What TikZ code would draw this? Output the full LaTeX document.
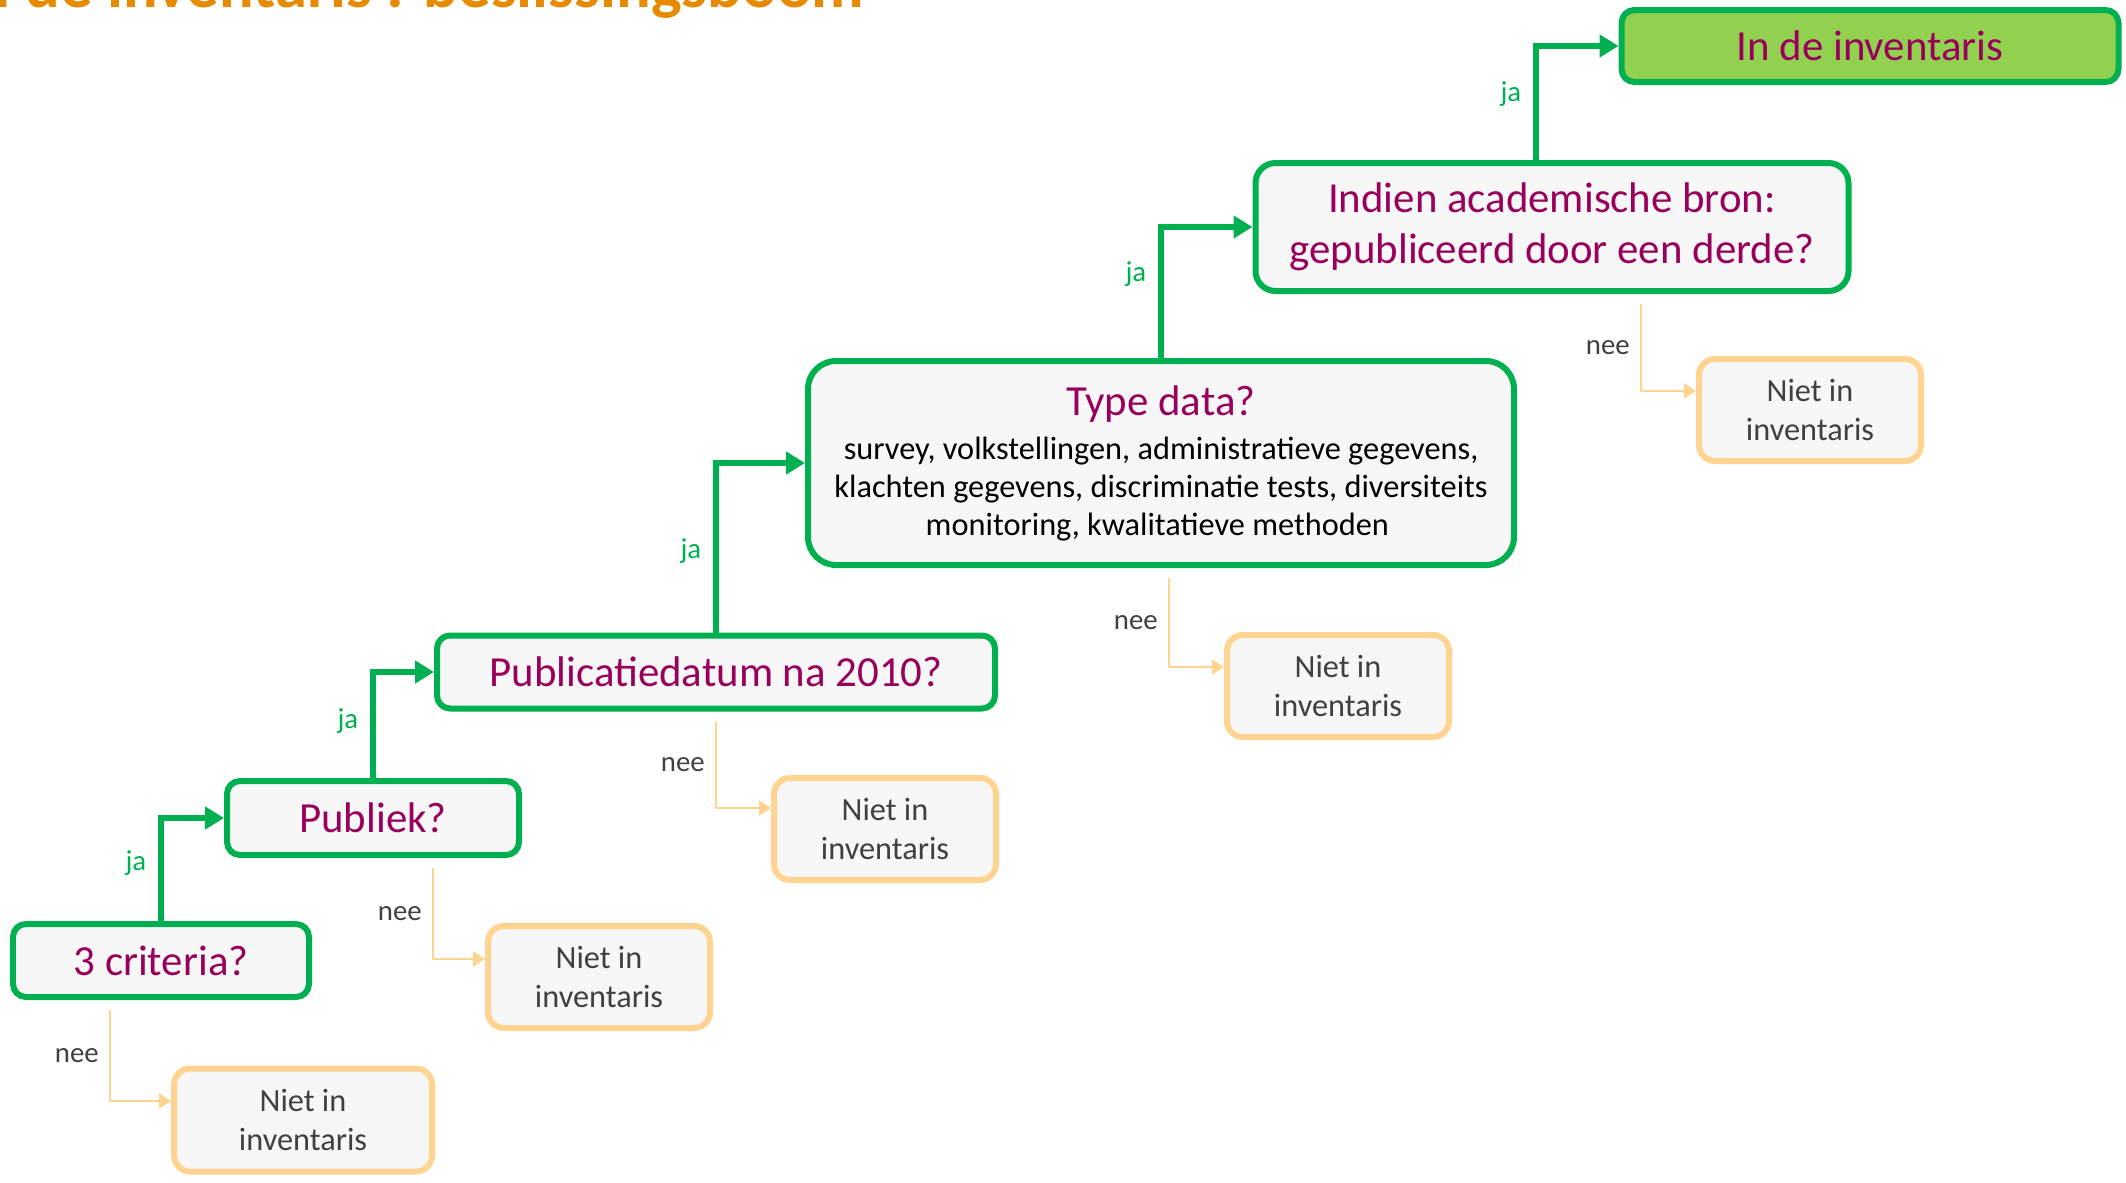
\documentclass[tikz,border=0pt]{standalone}
\usepackage{fontspec}
\setmainfont{Carlito}
\usepackage{xcolor}
\usetikzlibrary{arrows.meta, positioning, calc}
\definecolor{decisionGreen}{RGB}{0, 176, 80}
\definecolor{okGreen}{RGB}{146, 208, 80}
\definecolor{questionPurple}{RGB}{153, 0, 92}
\definecolor{nietOrange}{RGB}{255, 212, 145}
\definecolor{titleOrange}{RGB}{230, 138, 0}
\definecolor{boxGrey}{RGB}{247, 247, 247}
\definecolor{labelGrey}{RGB}{64, 64, 64}

\tikzset{
    question/.style={draw=decisionGreen, line width=0.06cm, fill=boxGrey, text=questionPurple, rounded corners=0.13cm, align=center, font=\fontsize{12.2}{14.4}\selectfont},
    nietbox/.style={draw=nietOrange, line width=0.06cm, fill=boxGrey, text=labelGrey, rounded corners=0.16cm, align=center, minimum width=2.22cm, minimum height=1.02cm, font=\fontsize{9.2}{11.1}\selectfont},
    jaline/.style={-{Triangle[length=0.19cm, width=0.22cm]}, line width=0.055cm, decisionGreen},
    neeline/.style={-{Triangle[length=0.12cm, width=0.15cm]}, line width=0.025cm, nietOrange},
    jalabel/.style={left, text=decisionGreen, font=\fontsize{8.2}{9}\selectfont, inner sep=0.12cm},
    neelabel/.style={left, text=labelGrey, font=\fontsize{8.2}{9}\selectfont, inner sep=0.1cm}
}

\begin{document}
\begin{tikzpicture}
            \useasboundingbox (0,0) rectangle (21.26,11.82);

            % Title (cut off at the top)
            \begin{scope}
                \clip (0,0) rectangle (21.26,11.82);
                \node[anchor=base west, inner sep=0, text=titleOrange, font=\fontsize{18.4}{20}\selectfont\bfseries] (title) at (-0.42,11.75) {In de inventaris : beslissingsboom};
            \end{scope}

            % Questions
            \node[question, minimum width=2.96cm, minimum height=0.73cm] at (1.61,2.215) (crit) {3 criteria?};
            \node[question, minimum width=2.92cm, minimum height=0.74cm] at (3.73,3.64) (publ) {Publiek?};
            \node[question, minimum width=5.58cm, minimum height=0.73cm] at (7.16,5.10) (pdat) {Publicatiedatum na 2010?};
            \node[question, minimum width=7.06cm, minimum height=2.04cm, rounded corners=0.28cm, font=\fontsize{9.2}{10.8}\selectfont] at (11.61,7.19) (type) {
                {\fontsize{12.2}{12}\selectfont Type data?}\\[0.06cm]
                \color{black}survey, volkstellingen, administratieve gegevens,\\
                \color{black}klachten gegevens, discriminatie tests, diversiteits\\
                \color{black}monitoring, kwalitatieve methoden
            };
            \node[question, minimum width=5.93cm, minimum height=1.28cm, rounded corners=0.2cm] at (15.52,9.55) (acad) {
                Indien academische bron:\\
                gepubliceerd door een derde?
            };

            % End result
            \node[question, fill=okGreen, minimum width=4.97cm, minimum height=0.72cm] at (18.70,11.36) (inv) {In de inventaris};

            % Niet in inventaris boxes
            \node[nietbox, minimum width=2.58cm, minimum height=1.03cm] at (3.03,0.62) (niet1) {Niet in\\inventaris};
            \node[nietbox] at (5.99,2.05) (niet2) {Niet in\\inventaris};
            \node[nietbox] at (8.85,3.53) (niet3) {Niet in\\inventaris};
            \node[nietbox] at (13.38,4.96) (niet4) {Niet in\\inventaris};
            \node[nietbox] at (18.10,7.72) (niet5) {Niet in\\inventaris};

            % ja arrows
            \draw[jaline] (crit.north) |- (publ.west) node[jalabel, pos=0.28] {ja};
            \draw[jaline] (publ.north) |- (pdat.west) node[jalabel, pos=0.27] {ja};
            \draw[jaline] (pdat.north) |- (type.west) node[jalabel, pos=0.24] {ja};
            \draw[jaline] (type.north) |- (acad.west) node[jalabel, pos=0.32] {ja};
            \draw[jaline] ([xshift=-0.16cm]acad.north) |- (inv.west) node[jalabel, pos=0.29] {ja};

            % nee arrows
            \draw[neeline] ([xshift=-0.51cm, yshift=-0.1cm]crit.south) |- ([yshift=0.19cm]niet1.west) node[neelabel, pos=0.25] {nee};
            \draw[neeline] ([xshift=0.60cm, yshift=-0.1cm]publ.south) |- ([yshift=0.18cm]niet2.west) node[neelabel, pos=0.25] {nee};
            \draw[neeline] ([yshift=-0.1cm]pdat.south) |- ([yshift=0.21cm]niet3.west) node[neelabel, pos=0.25] {nee};
            \draw[neeline] ([xshift=0.08cm, yshift=-0.1cm]type.south) |- ([yshift=0.19cm]niet4.west) node[neelabel, pos=0.25] {nee};
            \draw[neeline] ([xshift=0.89cm, yshift=-0.1cm]acad.south) |- ([yshift=0.19cm]niet5.west) node[neelabel, pos=0.25] {nee};
        \end{tikzpicture}
\end{document}
